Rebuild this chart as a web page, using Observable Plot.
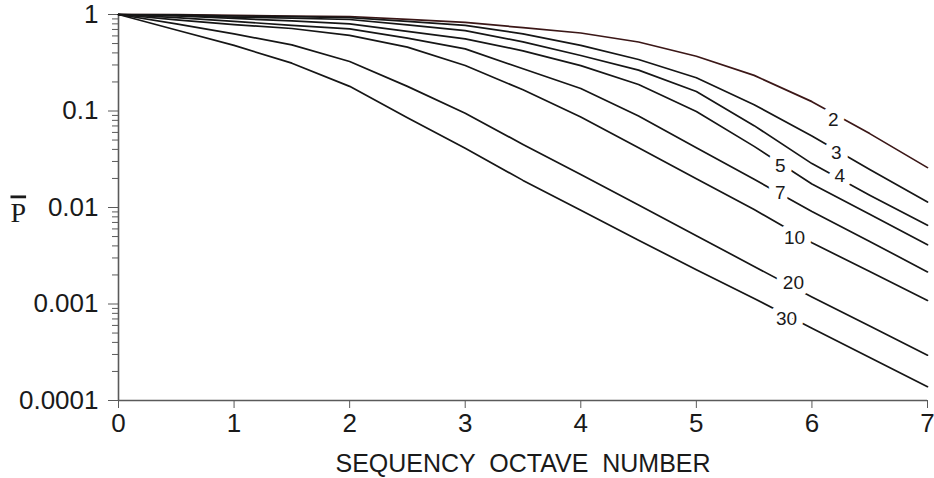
<!DOCTYPE html>
<html><head><meta charset="utf-8">
<script src="https://cdn.jsdelivr.net/npm/d3@7"></script>
<script src="https://cdn.jsdelivr.net/npm/@observablehq/plot@0.6"></script>
<style>body{margin:0;background:#fff}</style>
</head><body><div id="chart"></div>
<script>
// Sequency octave number (x) sample points
const xs = [0, 0.5, 1, 1.5, 2, 2.5, 3, 3.5, 4, 4.5, 5, 5.5, 6, 6.5, 7];
// Curve values (P-bar)
const p2  = [1, 0.995, 0.98, 0.965, 0.953, 0.89, 0.83, 0.73, 0.643, 0.519, 0.369, 0.234, 0.125, 0.0583, 0.0259];
const p3  = [1, 0.99, 0.965, 0.95, 0.93, 0.85, 0.77, 0.63, 0.479, 0.342, 0.221, 0.116, 0.0552, 0.0248, 0.0114];
const p4  = [1, 0.976, 0.94, 0.915, 0.887, 0.78, 0.68, 0.52, 0.376, 0.265, 0.159, 0.0705, 0.0285, 0.0134, 0.00654];
const p5  = [1, 0.965, 0.91, 0.857, 0.80, 0.67, 0.56, 0.42, 0.295, 0.188, 0.099, 0.043, 0.0175, 0.0085, 0.0041];
const p7  = [1, 0.93, 0.85, 0.77, 0.71, 0.569, 0.44, 0.274, 0.171, 0.0886, 0.0417, 0.0196, 0.00907, 0.00445, 0.00215];
const p10 = [1, 0.88, 0.787, 0.716, 0.607, 0.459, 0.296, 0.166, 0.0865, 0.0415, 0.0198, 0.00953, 0.00431, 0.00217, 0.00109];
const p20 = [1, 0.80, 0.63, 0.485, 0.326, 0.18, 0.095, 0.045, 0.022, 0.0106, 0.0051, 0.00245, 0.00118, 0.00059, 0.000295];
const p30 = [1, 0.69, 0.478, 0.313, 0.18, 0.085, 0.041, 0.0191, 0.00935, 0.00457, 0.00227, 0.00114, 0.000562, 0.000279, 0.000139];

const curveNames = ["2", "3", "4", "5", "7", "10", "20", "30"];
const curveValues = [p2, p3, p4, p5, p7, p10, p20, p30];

// In-line curve labels (position in data units)
const labelNames = ["2", "3", "4", "5", "7", "10", "20", "30"];
const labelX = [6.185, 6.21, 6.24, 5.727, 5.727, 5.85, 5.84, 5.78];
const labelY = [0.0818, 0.0364, 0.0215, 0.0267, 0.0140, 0.00488, 0.00164, 0.000696];

// Axis ticks
const xTicks = [0, 1, 2, 3, 4, 5, 6, 7];
const xTickLabels = ["0", "1", "2", "3", "4", "5", "6", "7"];
const yTicks = [1, 0.1, 0.01, 0.001, 0.0001];
const yTickLabels = ["1", "0.1", "0.01", "0.001", "0.0001"];
const xTitle = "SEQUENCY  OCTAVE  NUMBER";
const yTitle = "P";

const minorTicks = [];
for (const dec of [0.0001, 0.001, 0.01, 0.1]) for (let k = 2; k <= 9; k++) minorTicks.push(dec * k);

const rows = curveNames.flatMap((n, i) => xs.map((x, j) => ({curve: n, x, p: curveValues[i][j]})));
const labels = labelNames.map((n, i) => ({name: n, x: labelX[i], p: labelY[i]}));

const axisColor = "#5a5a5a";
const chart = Plot.plot({
  width: 934, height: 478,
  marginLeft: 118, marginRight: 7, marginTop: 14, marginBottom: 78,
  style: {fontFamily: "'Liberation Sans', Arial, sans-serif", fontSize: "26px", background: "#fff", color: "#1a1a1a"},
  x: {domain: [0, 7]},
  y: {type: "log", domain: [1e-4, 1]},
  marks: [
    Plot.axisY(minorTicks, {tickSize: 6, tickFormat: () => "", stroke: axisColor, label: null}),
    Plot.axisY(yTicks, {tickSize: 10, tickPadding: 10, tickFormat: d => yTickLabels[yTicks.indexOf(d)], stroke: axisColor, fill: "#1a1a1a", label: null}),
    Plot.axisX(xTicks, {tickSize: 8, tickPadding: 5, tickFormat: d => xTickLabels[xTicks.indexOf(d)], stroke: axisColor, fill: "#1a1a1a", label: null}),
    Plot.ruleX([0], {stroke: axisColor, strokeWidth: 1.6}),
    Plot.ruleY([1e-4], {stroke: axisColor, strokeWidth: 1.6}),
    Plot.line(rows, {x: "x", y: "p", z: "curve", stroke: d => d.curve === "2" ? "#3b1717" : "#161616", strokeWidth: 1.7}),
    Plot.text(labels, {x: "x", y: "p", text: "name", fontSize: 19, fill: "#1a1a1a", stroke: "white", strokeWidth: 14}),
    Plot.text([xTitle], {frameAnchor: "bottom", text: d => d, dy: 63, lineAnchor: "middle", fontSize: 25, fill: "#1a1a1a"}),
    Plot.text([yTitle], {frameAnchor: "left", text: d => d, dx: -108, dy: 6, fontFamily: "'Liberation Serif', 'DejaVu Serif', serif", fontSize: 28, fill: "#1a1a1a"})
  ]
});
d3.select(chart).selectAll("text").filter(function() { return this.textContent === yTitle; })
  .style("text-decoration", "overline");
document.getElementById("chart").appendChild(chart);
</script>
</body></html>
